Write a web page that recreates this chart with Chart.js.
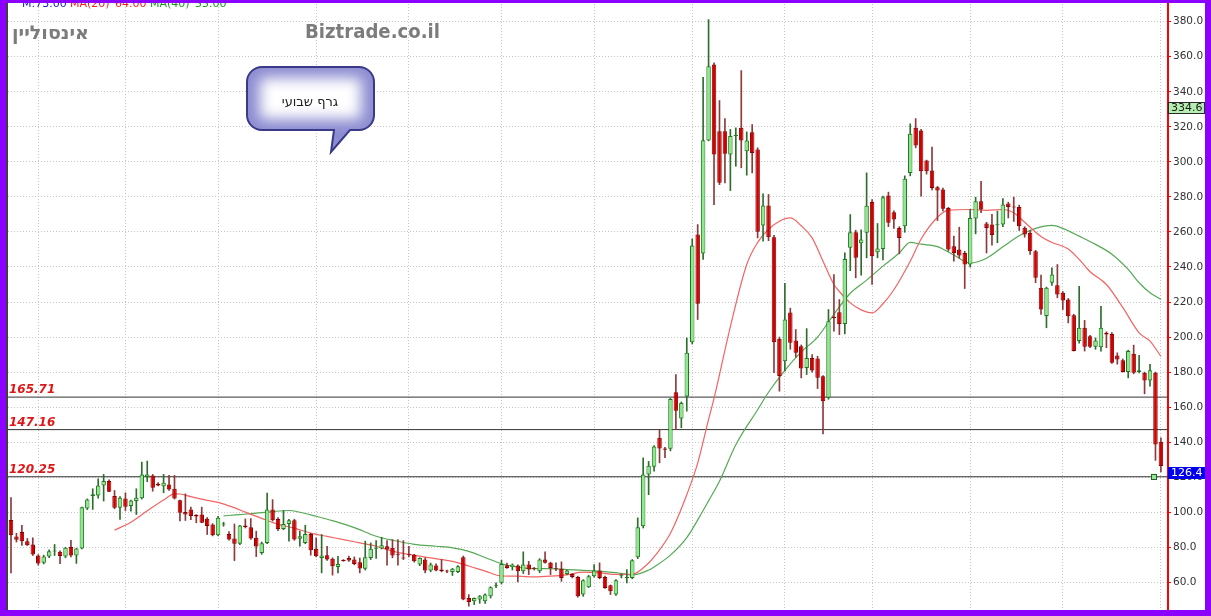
<!DOCTYPE html>
<html>
<head>
<meta charset="utf-8">
<script src="https://cdn.jsdelivr.net/npm/chart.js@4.4.0/dist/chart.umd.min.js"></script>
<style>
  html, body { margin: 0; padding: 0; background: #fff; }
  canvas { display: block; }
</style>
</head>
<body>
<canvas id="chart" width="1211" height="616"></canvas>
<script>
// --- Data (weekly candles) ---
const opens = [
  95.5, 86.2, 88.7, 83.5, 81.6, 75.3, 71.2, 74.8, 77.6, 77.4,
  74.8, 80.1, 75.3, 79.3, 102.2, 109.2, 109.6, 115.3, 117.8, 109.2,
  102.5, 107.9, 103.5, 106.4, 108, 120.1, 121, 116.2, 114.9, 115.9,
  113.4, 106.9, 100.1, 101.6, 98.4, 98.7, 96.3, 93, 86.9,
  93, 87.6, 85, 82, 92.4, 91.4, 85.4, 76.8, 82.5, 101.5, 96.2,
  90.5, 93.3, 95.4, 84.8, 82.5, 87.6, 79.1, 73.9, 75.5, 73.4,
  68.8, 72.4, 73.9, 73, 71.5, 67.7, 73.9, 79.1, 79.3, 80.6,
  79.7, 76, 73.8, 75.9, 75.8, 70.1, 73, 66.7,
  69.6, 67.3, 66.3, 65.9, 65.9, 74.3, 51.1, 49.2, 50.2, 49.2, 52.1, 57.8,
  59.7, 69.8, 68.6, 69.6, 66.3, 70.1, 67.8, 66.3, 73, 71.1,
  67.7, 67.8, 64.8, 64.8, 63.1, 53, 57.2, 63.5, 66.7, 63.1,
  58.3, 53, 63.5, 62.5, 62.5, 74.3, 92, 121.5, 126, 142.5,
  136.4, 136.2, 168.5, 153.5, 166, 197.1, 258.5, 247.7, 312.2, 355.6,
  317.5, 317.5, 304.2, 314.7, 319.4, 306.1, 316.9, 307, 263.7, 275.1,
  257, 199, 186.2, 214, 198, 194.8, 182.4, 188.1, 187.7, 177.6,
  165.3, 211.3, 214.2, 207.5, 250.9, 259.8, 253.6, 259.5, 277.1, 248.4,
  250.3, 280.8, 271.3, 262.3, 263.3, 293.7, 319.4, 317.9, 300.7, 295,
  285.5, 284.2, 273.7, 251.8, 250, 248, 241.4, 267.6, 277.5, 264.8,
  264.3, 263.8, 264.3, 276.2, 274.5, 274.2, 262.4, 259.5, 249, 228.1,
  212, 231, 229.6, 225.3, 221.4, 212.5, 197.7, 205.3, 200.5, 194.4,
  194.2, 202.4, 201.8, 189.5, 186.8, 180, 190.4, 180, 179.6, 175.2, 179.6, 140.2
];
const highs = [
  108.3, 88, 92.5, 85, 85.4, 75.8, 75.5, 78.5, 81.6, 78,
  80, 83.9, 79.5, 103, 107.6, 113.4, 119.1, 121.6, 118.5, 112.4,
  109, 111.1, 107, 113.4, 128.6, 129.2, 121.6, 117, 121.6, 121,
  121, 107, 110.5, 103, 98.7, 102.9, 97, 93.5, 97.7,
  94.3, 89, 93.3, 92.6, 96.2, 96.4, 89.2, 83, 111, 107.2, 97,
  101, 96, 96, 89.2, 92.6, 88, 85.4, 87.3, 80.6, 74,
  74.9, 73, 75, 74.5, 73.9, 83.5, 82.5, 83.8, 85.7, 83.8,
  84.4, 84.4, 83.8, 80.6, 76, 74, 74, 71,
  70.5, 73, 67, 68, 69.5, 75, 53, 51.1, 52.5, 53.5, 57.5, 59.7,
  72.6, 71, 70.5, 70, 77.4, 72, 68.5, 73.5, 77.4, 71.5,
  71.1, 71.7, 67, 65, 63.5, 61.5, 64, 70.1, 71.1, 63.5,
  58.5, 61.5, 64.8, 67.3, 73, 96.8, 131, 129, 138, 147.2,
  137, 165, 178.6, 163, 199.5, 256, 264.2, 348.3, 381.2, 356.5,
  335, 324.7, 318.5, 319.4, 352.1, 317.1, 321.3, 308, 281.7, 281.4,
  258, 200, 230.6, 216.5, 204.3, 195.5, 204.8, 190, 189, 178,
  215.7, 235.7, 221.4, 248.1, 269.9, 261, 261.2, 293.7, 278.5, 264.8,
  280.5, 282.7, 272, 263, 292, 321.7, 324.7, 318.5, 301, 308.4,
  286, 285, 274, 257.6, 262.7, 249, 272.8, 279.8, 288.9, 265.5,
  270, 271.9, 279.1, 277, 279.9, 275.3, 263, 260.8, 249.5, 235.3,
  228.5, 239.5, 241.4, 226, 222, 213, 229, 209.5, 201, 199.5,
  217.6, 203, 202.5, 191, 187.5, 192.5, 195.4, 189.5, 180, 184.4, 180, 142.5
];
const lows = [
  65.4, 83, 81, 81, 75.3, 69.8, 70.5, 74, 75.3, 70.6,
  74, 74.5, 70.8, 79, 101.5, 101.6, 108, 106.4, 111.7, 102,
  95.9, 101, 100.6, 98.7, 107.5, 117.4, 112, 115, 111.1, 112.4,
  107.5, 95, 95.3, 95.7, 94, 94, 87.3, 86.5, 86.5,
  92, 84, 72.4, 81.5, 91, 84.5, 74.7, 76, 82, 95, 89.5,
  90, 83.5, 84, 80.6, 82, 75.5, 74.5, 65.4, 72.5, 64.1,
  65.4, 72, 72, 70, 65.4, 67, 73, 73.6, 79, 69.8,
  74, 69.8, 73, 74.5, 71.5, 69.5, 65.4, 66,
  66.5, 66, 65.5, 63.9, 65.5, 50, 46.4, 47.3, 48, 48, 51, 57,
  59, 68, 67, 60.2, 65, 64.4, 67, 65.5, 71, 64.4,
  66.7, 60.6, 64.4, 62.5, 51.5, 52, 57, 63, 62, 56.5,
  53, 52.5, 62.5, 59.7, 62, 73.5, 91, 110, 123.4, 128.2,
  131.1, 135, 147.2, 148.2, 157.7, 196, 210, 244.3, 312, 275.6,
  287, 288, 283.6, 297.5, 296.6, 292.4, 293.7, 256.6, 254.7, 255,
  179.6, 169.1, 180.7, 193, 188.5, 176.7, 178.6, 180, 170.6, 144.7,
  164.5, 203.3, 201.4, 201.8, 237.9, 233.8, 235.3, 245.2, 230, 245.2,
  244, 263, 262, 247.5, 259.8, 292, 308, 280.4, 293, 284,
  266.5, 272, 249, 243.3, 245, 227.7, 240, 258.9, 271, 248,
  252.5, 253.8, 263, 268, 266, 260.8, 257, 247.1, 231, 212.9,
  205.3, 229.5, 222.4, 215.7, 208.1, 192, 196.5, 192, 194, 193,
  192, 193.9, 185, 184.5, 180, 176.7, 179, 179.5, 167.6, 172, 129.6, 123
];
const closes = [
  86.8, 84.3, 83.5, 81.2, 75.9, 70.8, 74.8, 77.8, 78, 75,
  79.7, 75.3, 79.3, 102.9, 107.3, 110.2, 115.3, 117.8, 111.7, 102.5,
  108.3, 103.1, 106.7, 108.3, 121.6, 121.6, 114, 115.3, 116.8, 113,
  107.9, 99.7, 98.7, 97.8, 97.6, 94, 92.1, 86.9, 96.8,
  93.4, 84.4, 82, 92.4, 91.6, 85, 80.4, 82.3, 101.5, 95.4, 90.5,
  93.3, 95.4, 84.4, 86.3, 87.6, 78.3, 74.9, 75.3, 73, 69.2,
  70.5, 72.2, 72.4, 70.5, 67.9, 74.3, 79.1, 79.3, 81.2, 78.7,
  75.3, 75.5, 73.6, 75.8, 72, 73.9, 66.7, 70.1,
  66.7, 66.3, 66.2, 67.7, 69.2, 50.2, 48.8, 51.1, 52.1, 53, 57.2, 58.3,
  70.5, 68.2, 70.1, 66.3, 70.1, 67.3, 67.7, 73, 71.1, 68.2,
  67.5, 62.5, 66.7, 63.1, 52.1, 61.2, 63.5, 66.7, 62.5, 56.8,
  54.9, 61.2, 63.7, 62.6, 72.6, 91.4, 121.5, 126.5, 137.5, 136.4,
  135.6, 164.7, 158, 162.4, 191, 252.2, 219, 312.4, 354.6, 304.2,
  288, 304.6, 314.7, 314.9, 312.2, 312.2, 305.1, 260.1, 275.1, 257,
  197.1, 177.7, 210, 196.7, 191, 182, 188.1, 180.9, 176.7, 163.4,
  209, 210.8, 207.5, 244.6, 259.8, 245.2, 255.7, 275, 246.1, 250.5,
  279.8, 265.2, 267.1, 256.6, 290.3, 316, 309.3, 294.6, 294.6, 285.1,
  283.6, 273.3, 249.9, 248, 246.5, 241.4, 268, 277.5, 272.8, 262.3,
  258.2, 264.3, 275.7, 274.2, 274, 263.3, 258.6, 249, 233.8, 215.7,
  228.1, 235.7, 224.3, 220.9, 211.9, 192, 205.3, 194.4, 194.4, 198,
  205.3, 201.5, 185.3, 187.2, 180, 192, 179.6, 181, 175.2, 181.1, 138.7, 126.4
];

// Moving averages (candle index / value)
const ma20Idx = [19, 22, 25, 28, 30, 31, 33, 36, 38, 40, 43, 46, 49, 52, 55, 58, 61, 64, 67, 70, 73, 77, 81, 84, 87, 90, 93, 96, 99, 102, 105, 108, 111, 114, 117, 118, 121, 124, 126, 128, 129, 132, 135, 137, 139, 141, 143, 145, 147, 149, 151, 152, 154, 156, 158, 160, 162, 165, 167, 170, 172, 176, 179, 182, 184, 186, 189, 191, 194, 196, 198, 201, 204, 207, 209, 211];
const ma20Val = [89.8, 94.3, 100.8, 107, 110.5, 110.4, 108.9, 106.8, 105.6, 103.6, 100.1, 96.5, 93.1, 90.9, 88.1, 86.2, 84.4, 82.5, 80.6, 77.8, 75.9, 73.9, 72, 69.3, 66.4, 63.6, 63.5, 63.1, 63.5, 64.3, 65.8, 65.4, 64.5, 64.6, 71, 74.5, 88, 110, 128, 153, 165, 206, 241.4, 254, 261.5, 266.1, 268, 263.5, 256.6, 243.3, 230, 226, 219.5, 215.5, 213.8, 219, 227, 243.3, 256, 268.4, 272.5, 272.8, 272.3, 272.8, 271, 265.5, 257.4, 254, 250.3, 244.3, 237.3, 230, 216.9, 202.4, 197.7, 189];
const ma40Idx = [39, 42, 45, 48, 51, 53, 56, 59, 63, 67, 70, 74, 78, 81, 84, 87, 90, 93, 96, 99, 102, 105, 108, 111, 114, 117, 118, 121, 124, 127, 128, 130, 133, 137, 139, 142, 145, 148, 151, 154, 157, 160, 163, 165, 167, 170, 173, 176, 179, 182, 185, 188, 191, 193, 196, 199, 202, 205, 207, 209, 211];
const ma40Val = [97.9, 98.6, 99.5, 100.4, 101, 100, 97.7, 95.2, 91.2, 86.3, 84, 81.7, 80.6, 79.7, 77.7, 74.2, 70.6, 68.7, 67.8, 67.8, 67.3, 66.8, 66.3, 65.5, 64.2, 67, 68.8, 75.5, 85.5, 101, 106.5, 117.7, 138.5, 158.5, 168.5, 181, 191.5, 200, 213, 225, 232.5, 240.5, 248, 254, 253, 251.6, 246.8, 242.3, 245, 251.5, 257.8, 262, 263.7, 262, 257.6, 252.9, 247.3, 238.6, 231, 225.3, 221.5];

const levelValues = [165.71, 147.16, 120.25];
const yTicks = [60, 80, 100, 120, 140, 160, 180, 200, 220, 240, 260, 280, 300, 320, 340, 360, 380];
const xGridIdx = [5, 21, 38, 56, 73, 90, 107, 125, 142, 158, 176, 193, 211];
const lastPrice = 126.4;
const markPrice = 334.6;

// --- Build library data ---
const idx = opens.map((_, i) => i);
const isUp = idx.map(i => closes[i] >= opens[i]);
const bodies = idx.map(i => ({ x: i, y: [opens[i], closes[i]] }));
const wicks = idx.map(i => ({ x: i, y: [lows[i], highs[i]] }));
const ma20 = ma20Idx.map((x, i) => ({ x, y: ma20Val[i] }));
const ma40 = ma40Idx.map((x, i) => ({ x, y: ma40Val[i] }));

const X_MIN = -0.55, X_MAX = 212.3;

function levelDataset(v) {
    return {
        type: 'line',
        data: [{ x: X_MIN, y: v }, { x: X_MAX, y: v }],
        borderColor: '#333333',
        borderWidth: 1,
        pointRadius: 0,
        order: 5
    };
}

// Scale text to a given width (for the logo style titles)
function fitText(ctx, text, x, y, w) {
    const m = ctx.measureText(text).width;
    ctx.save();
    ctx.translate(x, y);
    ctx.scale(w / m, 1);
    ctx.fillText(text, 0, 0);
    ctx.restore();
}

function priceBox(ctx, value, ys, fill, textColor, stroke) {
    const top = Math.round(ys.getPixelForValue(value)) + 1;
    ctx.fillStyle = fill;
    ctx.fillRect(1168, top, 37, 12);
    ctx.strokeStyle = stroke;
    ctx.lineWidth = 1;
    ctx.strokeRect(1168.5, top + 0.5, 36, 11);
    ctx.fillStyle = textColor;
    ctx.font = '11px "DejaVu Sans"';
    ctx.textBaseline = 'middle';
    ctx.textAlign = 'left';
    ctx.fillText(value.toFixed(1), 1171, top + 6.5);
}

function drawCallout(ctx) {
    const x0 = 247, y0 = 67, x1 = 374, y1 = 130, r = 15;
    ctx.save();
    ctx.beginPath();
    ctx.moveTo(x0 + r, y0);
    ctx.lineTo(x1 - r, y0);
    ctx.arcTo(x1, y0, x1, y0 + r, r);
    ctx.lineTo(x1, y1 - r);
    ctx.arcTo(x1, y1, x1 - r, y1, r);
    ctx.lineTo(350, y1);
    ctx.lineTo(331, 152);
    ctx.lineTo(334, y1);
    ctx.lineTo(x0 + r, y1);
    ctx.arcTo(x0, y1, x0, y1 - r, r);
    ctx.lineTo(x0, y0 + r);
    ctx.arcTo(x0, y0, x0 + r, y0, r);
    ctx.closePath();
    ctx.fillStyle = '#8c8cd2';
    ctx.fill();
    ctx.save();
    ctx.clip();
    ctx.filter = 'blur(7px)';
    ctx.fillStyle = '#ffffff';
    ctx.fillRect(x0 + 13, y0 + 11, x1 - x0 - 26, y1 - y0 - 22);
    ctx.restore();
    ctx.lineWidth = 2;
    ctx.strokeStyle = '#3a3a8a';
    ctx.stroke();
    ctx.fillStyle = '#222';
    ctx.font = '13px "DejaVu Sans"';
    ctx.textAlign = 'center';
    ctx.textBaseline = 'alphabetic';
    ctx.fillText('גרף שבועי', 310, 106);
    ctx.restore();
}

const overlay = {
    id: 'overlay',
    beforeDraw(chart) {
        const c = chart.ctx;
        c.save();
        c.fillStyle = '#ffffff';
        c.fillRect(0, 0, chart.width, chart.height);
        c.restore();
    },
    afterDraw(chart) {
        const ctx = chart.ctx;
        const ys = chart.scales.y;
        const xs = chart.scales.x;
        const area = chart.chartArea;
        ctx.save();

        // labels of the horizontal levels
        ctx.font = 'italic bold 12px "DejaVu Sans"';
        ctx.fillStyle = '#e01515';
        ctx.textAlign = 'left';
        ctx.textBaseline = 'alphabetic';
        levelValues.forEach(v => ctx.fillText(v.toFixed(2), area.left + 1, ys.getPixelForValue(v) - 4));

        // value boxes on the price axis
        priceBox(ctx, markPrice, ys, '#b4eeb0', '#1a1a1a', '#2a2a2a');
        priceBox(ctx, lastPrice, ys, '#0000ee', '#ffffff', '#0000ee');

        // small marker on the lowest level
        const mx = xs.getPixelForValue(209.7);
        const my = ys.getPixelForValue(levelValues[2]);
        ctx.fillStyle = '#8fe88f';
        ctx.fillRect(mx - 3, my - 3, 6, 6);
        ctx.strokeStyle = '#2e5e2e';
        ctx.lineWidth = 1;
        ctx.strokeRect(Math.round(mx) - 2.5, Math.round(my) - 2.5, 5, 5);

        // header line (mostly cut off by the frame)
        ctx.font = '11px "DejaVu Sans"';
        ctx.textBaseline = 'alphabetic';
        [['M:73.00', 22, '#1a1ad0'], ['MA(20)', 70, '#ff1a1a'], ['64.00', 115, '#ff1a1a'],
         ['MA(40)', 150, '#1a9a1a'], ['55.00', 195, '#1a9a1a']].forEach(([t, x, c]) => {
            ctx.fillStyle = c;
            ctx.fillText(t, x, 7);
        });

        // title and site name
        ctx.fillStyle = '#7c7c7c';
        ctx.font = 'bold 19px "DejaVu Sans"';
        fitText(ctx, 'אינסוליין', 12, 39, 77);
        ctx.font = 'bold 19px "DejaVu Sans"';
        fitText(ctx, 'Biztrade.co.il', 305, 38, 135);

        drawCallout(ctx);

        // purple frame
        ctx.fillStyle = '#8b00ff';
        ctx.fillRect(0, 0, 6, 616);
        ctx.fillRect(1205, 0, 6, 616);
        ctx.fillRect(0, 0, 1211, 3);
        ctx.fillRect(0, 610, 1211, 6);
        ctx.fillStyle = '#404040';
        ctx.fillRect(6, 3, 2, 607);
        ctx.restore();
    }
};

new Chart(document.getElementById('chart'), {
    type: 'bar',
    data: {
        datasets: [
            {
                data: bodies,
                backgroundColor: isUp.map(u => u ? '#8ee88e' : '#d40000'),
                borderColor: isUp.map(u => u ? '#1f7a1f' : '#8a0000'),
                borderWidth: 1,
                borderSkipped: false,
                grouped: false,
                barPercentage: 0.82,
                categoryPercentage: 1,
                minBarLength: 1,
                order: 1
            },
            {
                data: wicks,
                backgroundColor: isUp.map(u => u ? '#2d6e2d' : '#8e3a3a'),
                barThickness: 1,
                grouped: false,
                order: 2
            },
            {
                type: 'line',
                data: ma20,
                borderColor: '#f26464',
                borderWidth: 1.2,
                pointRadius: 0,
                cubicInterpolationMode: 'monotone',
                order: 3
            },
            {
                type: 'line',
                data: ma40,
                borderColor: '#55a955',
                borderWidth: 1.2,
                pointRadius: 0,
                cubicInterpolationMode: 'monotone',
                order: 4
            },
            ...levelValues.map(levelDataset)
        ]
    },
    options: {
        responsive: false,
        devicePixelRatio: 1,
        animation: false,
        layout: { padding: { left: 8, top: 4, right: 0, bottom: 6 } },
        plugins: { legend: { display: false }, tooltip: { enabled: false } },
        scales: {
            x: {
                type: 'linear',
                offset: false,
                min: X_MIN,
                max: X_MAX,
                afterBuildTicks: s => { s.ticks = xGridIdx.map(v => ({ value: v })); },
                afterFit: s => { s.height = 0; s.paddingLeft = 0; s.paddingRight = 0; },
                ticks: { display: false },
                grid: { color: '#c6c6c6', drawTicks: false, offset: false },
                border: { display: false, dash: [1, 2] }
            },
            y: {
                type: 'linear',
                position: 'right',
                min: 44.2,
                max: 390.1,
                afterBuildTicks: s => { s.ticks = yTicks.map(v => ({ value: v })); },
                afterFit: s => { s.width = 43; s.paddingTop = 0; s.paddingBottom = 0; },
                ticks: {
                    callback: v => Number(v).toFixed(1),
                    color: '#333',
                    font: { family: 'DejaVu Sans', size: 10.5 },
                    padding: 2
                },
                grid: { color: '#c6c6c6', tickColor: '#ff0000', tickLength: 3 },
                border: { color: '#ff0000', width: 2, dash: [1, 2] }
            }
        }
    },
    plugins: [overlay]
});
</script>
</body>
</html>
